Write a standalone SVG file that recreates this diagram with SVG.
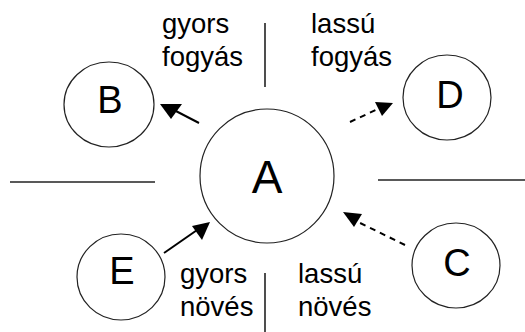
<svg xmlns="http://www.w3.org/2000/svg" width="525" height="332" viewBox="0 0 525 332">
<style>
.node{fill:#fff;stroke:#222;stroke-width:1.2}
.lbl{font-family:"Liberation Sans",Arial,sans-serif;fill:#000}
.big{font-size:38px;text-anchor:middle}
.txt{font-size:27.5px}
.sep{stroke:#222;stroke-width:1.6;fill:none}
.conn{stroke:#000;stroke-width:2;fill:none}
.dash{stroke-dasharray:6 5}
.head{fill:#000}
</style>
<rect width="525" height="332" fill="#fff"/>
<g id="separators">
<line class="sep" x1="10" y1="182" x2="155" y2="182"/>
<line class="sep" x1="378" y1="180" x2="525" y2="180"/>
<line class="sep" x1="265" y1="23" x2="265" y2="87"/>
<line class="sep" x1="265" y1="273" x2="265" y2="332"/>
</g>
<g id="labels" class="lbl txt">
<text x="162" y="33">gyors</text>
<text x="162" y="66">fogyás</text>
<text x="311" y="33">lassú</text>
<text x="311" y="66">fogyás</text>
<text x="180" y="283">gyors</text>
<text x="180" y="316">növés</text>
<text x="298" y="283">lassú</text>
<text x="298" y="316">növés</text>
</g>
<g id="node-A"><circle class="node" cx="267" cy="176" r="67"/><text class="lbl" x="267" y="193" font-size="46" text-anchor="middle">A</text></g>
<g id="node-B"><ellipse class="node" cx="109" cy="104.5" rx="45" ry="42.5"/><text class="lbl big" x="110" y="113">B</text></g>
<g id="node-D"><ellipse class="node" cx="447" cy="97.5" rx="44" ry="42.5"/><text class="lbl big" x="450" y="108">D</text></g>
<g id="node-E"><ellipse class="node" cx="121" cy="277" rx="44" ry="43"/><text class="lbl big" x="122" y="284">E</text></g>
<g id="node-C"><ellipse class="node" cx="456" cy="265.5" rx="44" ry="42.5"/><text class="lbl big" x="457" y="276">C</text></g>
<g id="connectors">
<line class="conn" x1="199" y1="123" x2="172" y2="109"/>
<polygon class="head" points="160,104 182,104 171,119"/>
<line class="conn dash" x1="350" y1="122" x2="380" y2="108"/>
<polygon class="head" points="375,102 393,103 382,116"/>
<line class="conn" x1="164" y1="253" x2="200" y2="228"/>
<polygon class="head" points="192,226 210,222 202,240"/>
<line class="conn dash" x1="405" y1="245" x2="352" y2="219"/>
<polygon class="head" points="343,212 362,214 354,227"/>
</g>
</svg>
